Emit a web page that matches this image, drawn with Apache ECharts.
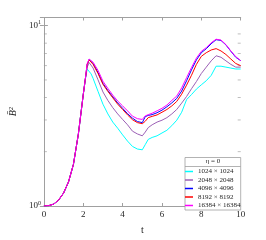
<!DOCTYPE html>
<html><head><meta charset="utf-8">
<script src="https://cdn.jsdelivr.net/npm/echarts@6/dist/echarts.min.js"></script>
<style>html,body{margin:0;padding:0;background:#fff}#c{width:266px;height:240px}</style>
</head><body><div id="c"></div>
<script>
const t = [0,0.25,0.5,0.75,1,1.25,1.5,1.75,2,2.1,2.2,2.3,2.4,2.5,2.75,3,3.25,3.5,3.75,4,4.25,4.5,4.75,5,5.15,5.3,5.5,5.75,6,6.25,6.5,6.75,7,7.25,7.5,7.75,8,8.25,8.5,8.75,9,9.25,9.5,9.75,10];
const rise = [1.0,1.005,1.025,1.08,1.18,1.36,1.70,2.5];
const b1024 = [4.15,5.0,5.75,5.65,5.4,5.1,4.32,3.67,3.24,2.92,2.70,2.48,2.29,2.14,2.07,2.05,2.19,2.34,2.40,2.45,2.54,2.63,2.79,2.99,3.31,3.89,4.15,4.45,4.7,4.95,5.3,5.96,5.96,5.89,5.82,5.75,5.75];
const b2048 = [4.15,5.01,5.89,6.24,6.10,5.82,5.01,4.29,3.85,3.51,3.24,3.02,2.82,2.60,2.51,2.45,2.57,2.72,2.82,2.92,2.99,3.09,3.24,3.43,3.72,4.05,4.47,4.90,5.43,5.89,6.38,6.81,6.68,6.38,6.10,5.89,5.89];
const b4096 = [4.15,5.01,6.10,6.49,6.38,6.17,5.50,4.79,4.37,4.03,3.73,3.48,3.25,3.07,2.94,2.90,3.13,3.18,3.21,3.29,3.40,3.55,3.73,3.95,4.34,4.95,5.69,6.46,7.08,7.45,7.94,8.36,8.28,7.82,7.21,6.68,6.40];
const b8192 = [4.15,5.01,6.10,6.46,6.31,6.10,5.43,4.73,4.32,3.98,3.67,3.43,3.20,3.01,2.90,2.86,2.95,3.09,3.14,3.20,3.31,3.43,3.59,3.80,4.17,4.68,5.31,6.10,6.76,7.08,7.33,7.46,7.24,6.92,6.53,6.17,6.0];
const b16384 = [4.15,5.01,6.17,6.53,6.46,6.27,5.65,4.92,4.49,4.12,3.82,3.59,3.37,3.15,3.05,3.02,3.16,3.21,3.27,3.37,3.48,3.63,3.85,4.07,4.52,5.15,5.86,6.61,7.21,7.55,8.04,8.41,8.32,7.85,7.24,6.73,6.40];
const names = ['1024 \u00d7 1024','2048 \u00d7 2048','4096 \u00d7 4096','8192 \u00d7 8192','16384 \u00d7 16384'];
const colors = ['#00ffff','#9b5fb5','#0000ff','#ff0000','#ff00ff'];
const xTicks = [0,2,4,6,8,10];
const yMinor = [2,3,4,5,6,7,8,9];
const legendTitle = '\u03b7 = 0';

const font = 'Liberation Serif';
const all = [b1024,b2048,b4096,b8192,b16384];
const series = all.map((arr,i)=>({
  name: names[i], type:'line', showSymbol:false, symbol:'none', animation:false,
  lineStyle:{width:1, color:colors[i]}, itemStyle:{color:colors[i]},
  data: t.map((tt,k)=>[tt, k<rise.length ? rise[k] : arr[k-rise.length]])
}));
const tickSym = (x, off) => ({
  type:'scatter', silent:true, animation:false, symbol:'rect', symbolSize:[3,0.8],
  symbolOffset:[off,0], itemStyle:{color:'#9a9a9a'}, z:1, clip:false,
  data: yMinor.map(v=>[x,v])
});
series.push(tickSym(0,1.5));
series.push(tickSym(10,-1.5));

const chart = echarts.init(document.getElementById('c'), null, {renderer:'canvas'});
const supFmt = v => {
  const l = Math.log10(v);
  if (Math.abs(l-Math.round(l))<1e-6) return '10{s|'+Math.round(l)+'}';
  return '';
};
chart.setOption({
  backgroundColor:'#fff',
  animation:false,
  grid:{left:34, right:25.3, top:17.5, bottom:30},
  xAxis:[{
    type:'value', min:0, max:10, interval:2,
    name:'t', nameLocation:'middle', nameGap:19,
    nameTextStyle:{fontFamily:font, fontSize:10, color:'#262626'},
    axisLine:{show:true, lineStyle:{color:'#a0a0a0', width:1}},
    axisTick:{show:true, inside:true, length:3, lineStyle:{color:'#a0a0a0'}},
    axisLabel:{fontFamily:font, fontSize:9, color:'#262626', margin:4},
    splitLine:{show:false}
  },{
    type:'value', position:'top', min:0, max:10, interval:2,
    axisLine:{show:true, lineStyle:{color:'#a0a0a0', width:1}},
    axisTick:{show:true, inside:true, length:3, lineStyle:{color:'#a0a0a0'}},
    axisLabel:{show:false}, splitLine:{show:false}
  }],
  yAxis:[{
    type:'log', min:1, max:11.1, logBase:10,
    name:'B\u0304\u00b2', nameLocation:'middle', nameGap:25, nameRotate:90,
    nameTextStyle:{fontFamily:font, fontSize:10, fontStyle:'italic', color:'#262626'},
    axisLine:{show:true, lineStyle:{color:'#a0a0a0', width:1}},
    axisTick:{show:true, inside:true, length:4, lineStyle:{color:'#a0a0a0'}},
    axisLabel:{fontFamily:font, fontSize:9, color:'#262626', margin:3, formatter:supFmt,
      rich:{s:{fontFamily:font, fontSize:6, verticalAlign:'top', padding:[0,0,6,0], color:'#262626'}}},
    splitLine:{show:false}
  },{
    type:'log', min:1, max:11.1, logBase:10, position:'right',
    axisLine:{show:true, lineStyle:{color:'#a0a0a0', width:1}},
    axisTick:{show:true, inside:true, length:4, lineStyle:{color:'#a0a0a0'}},
    axisLabel:{show:false}, splitLine:{show:false}
  }],
  legend:{
    data:names.map(n=>({name:n, icon:'rect'})), orient:'vertical', left:185, top:168, itemGap:1.5,
    itemWidth:8, itemHeight:1.5, padding:0, z:10,
    textStyle:{fontFamily:font, fontSize:7, color:'#262626', lineHeight:7}
  },
  title:{text:legendTitle, left:213, top:158, textAlign:'center', padding:0, z:10,
    textStyle:{fontFamily:font, fontSize:7, fontWeight:'normal', color:'#262626'}},
  graphic:[
    {type:'rect', shape:{x:185, y:157.5, width:55.7, height:52.5}, style:{fill:'#fff', stroke:'#a0a0a0', lineWidth:0.8}, z:3},
    {type:'line', shape:{x1:185, y1:166.5, x2:240.7, y2:166.5}, style:{stroke:'#a0a0a0', lineWidth:0.8}, z:3}
  ],
  series: series
});
</script></body></html>
